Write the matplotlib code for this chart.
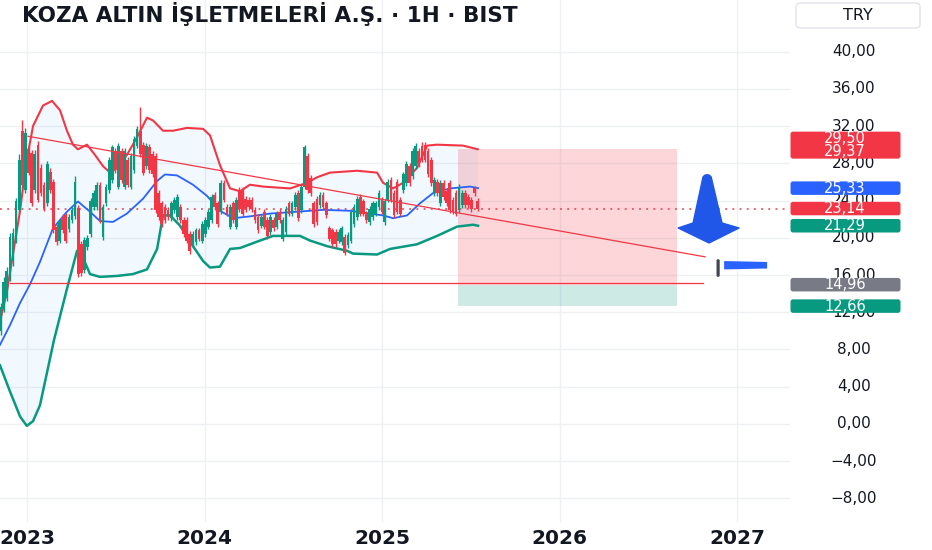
import numpy as np
import pandas as pd
import matplotlib
matplotlib.use('Agg')
import matplotlib.pyplot as plt
from matplotlib.patches import Rectangle, FancyBboxPatch, Polygon

# ---------------- data ----------------
title = "KOZA ALTIN İŞLETMELERİ A.Ş. · 1H · BIST"
currency = "TRY"
year_ticks = [2023, 2024, 2025, 2026, 2027]
price_ticks = [40, 36, 32, 28, 24, 20, 16, 12, 8, 4, 0, -4, -8]

opens = [10.0, 12.3, 13.5, 15.7, 17.5, 19.7, 23.0, 31.5, 25.1, 29.5, 29.1, 25.1, 30.0, 27.5, 25.7, 23.7,
         27.1, 26.0, 21.2, 19.7, 22.2, 22.4, 20.9, 21.9, 22.3, 23.2, 19.3, 16.5, 19.0, 20.4, 23.3, 23.3,
         25.7, 20.1, 23.7, 25.1, 26.2, 29.3, 25.5, 29.3, 25.5, 28.4, 25.5, 27.3, 29.9, 31.5, 30.0, 27.7,
         29.8, 29.0, 28.8, 24.8, 23.7, 23.3, 23.0, 22.1, 23.0, 22.2, 23.3, 21.9, 21.9, 20.4, 19.2, 19.5,
         20.8, 19.7, 20.4, 21.2, 21.9, 24.6, 23.7, 22.8, 25.9, 23.3, 21.2, 23.7, 21.2, 25.1, 25.1, 24.2,
         24.1, 24.1, 23.0, 22.2, 21.3, 22.8, 21.9, 20.6, 21.9, 21.2, 22.8, 19.9, 20.6, 23.7, 22.6, 23.3,
         24.8, 23.0, 25.5, 28.8, 26.4, 23.7, 24.2, 23.5, 24.6, 23.7, 21.0, 20.8, 20.6, 19.7, 19.5, 20.1,
         19.2, 19.7, 21.5, 22.2, 24.4, 23.9, 22.6, 21.7, 22.2, 22.6, 23.3, 24.1, 21.7, 24.1, 26.2, 24.8,
         26.0, 24.1, 25.1, 25.9, 27.7, 26.6, 27.7, 29.3, 29.9, 30.0, 29.3, 28.4, 24.8, 26.0, 23.7, 25.9,
         25.0, 25.9, 24.1, 24.8, 23.0, 23.5, 24.8, 24.4, 24.1, 25.3, 24.0]
closes = [12.6, 15.2, 16.4, 20.1, 20.5, 23.9, 28.4, 25.7, 31.3, 27.0, 23.7, 29.0, 24.1, 24.8, 23.2, 27.9,
          25.1, 20.8, 19.5, 21.7, 20.8, 19.7, 22.2, 23.0, 26.0, 16.1, 16.2, 19.8, 20.0, 24.0, 24.8, 25.7,
          21.9, 23.3, 25.5, 28.4, 29.7, 27.3, 29.9, 26.2, 29.3, 25.7, 28.8, 30.6, 31.7, 29.0, 27.0, 29.9,
          27.3, 26.8, 23.0, 22.2, 21.5, 21.9, 22.2, 23.7, 24.1, 24.4, 21.9, 20.4, 19.7, 18.6, 20.4, 20.8,
          19.9, 21.5, 21.9, 22.8, 24.4, 23.3, 21.5, 25.9, 24.1, 22.6, 23.3, 21.9, 24.1, 23.1, 22.6, 23.1,
          23.3, 23.1, 21.9, 20.8, 22.2, 21.2, 20.2, 22.2, 21.0, 22.6, 21.9, 21.9, 23.1, 22.6, 23.7, 24.6,
          22.1, 25.5, 29.7, 25.1, 24.8, 21.5, 21.7, 24.6, 23.3, 22.4, 19.9, 19.3, 19.3, 20.6, 21.0, 18.4,
          20.3, 22.8, 23.3, 24.2, 22.6, 22.6, 21.9, 23.1, 23.7, 23.7, 24.8, 22.8, 23.9, 26.0, 24.1, 22.4,
          22.8, 22.6, 26.8, 27.9, 25.9, 29.3, 29.9, 27.9, 28.4, 28.4, 26.8, 25.9, 26.2, 24.8, 25.9, 24.4,
          23.7, 23.0, 22.8, 22.6, 25.5, 24.8, 23.5, 23.5, 23.1, 24.8, 23.14]
highs = [13.0, 15.8, 16.9, 20.5, 21.0, 24.3, 29.0, 32.6, 31.8, 29.9, 29.4, 29.4, 30.4, 27.9, 26.0, 28.3,
         27.5, 26.3, 21.5, 22.0, 22.5, 22.7, 22.5, 23.3, 26.6, 23.5, 19.6, 20.1, 20.3, 24.3, 25.1, 26.0,
         26.0, 23.6, 25.8, 28.7, 30.0, 29.6, 30.2, 29.6, 29.6, 28.7, 29.1, 30.9, 32.0, 34.0, 30.3, 30.2,
         30.1, 29.3, 29.1, 25.1, 24.0, 23.6, 23.3, 24.0, 24.4, 24.7, 23.6, 22.2, 22.2, 20.7, 20.7, 21.1,
         21.1, 21.8, 22.2, 23.1, 24.7, 24.9, 24.0, 26.2, 26.2, 23.6, 23.6, 24.0, 24.4, 25.4, 25.4, 24.5,
         24.4, 24.4, 23.3, 22.5, 22.5, 23.1, 22.2, 22.5, 22.2, 22.9, 23.1, 22.2, 23.4, 24.0, 24.0, 24.9,
         25.1, 25.8, 30.0, 29.1, 26.7, 24.0, 24.5, 24.9, 24.9, 24.0, 21.3, 21.1, 20.9, 20.9, 21.3, 20.4,
         20.6, 23.1, 23.6, 24.5, 24.7, 24.2, 22.9, 23.4, 24.0, 24.0, 25.1, 24.4, 24.2, 26.3, 26.5, 25.1,
         26.3, 24.4, 27.1, 28.2, 28.0, 29.6, 30.2, 29.6, 30.3, 30.3, 29.6, 28.7, 26.5, 26.3, 26.2, 26.2,
         25.3, 26.2, 24.4, 25.1, 25.8, 25.1, 25.1, 24.7, 24.4, 25.6, 24.3]
lows = [9.6, 12.0, 13.2, 15.4, 17.0, 19.4, 22.7, 25.3, 24.8, 26.7, 23.4, 24.8, 23.8, 24.5, 22.9, 23.4,
        24.8, 20.5, 19.2, 19.4, 20.5, 19.4, 20.6, 21.6, 22.0, 15.8, 15.9, 16.2, 18.7, 20.1, 23.0, 23.0,
        21.6, 19.8, 23.4, 24.8, 25.9, 27.0, 25.2, 25.9, 25.2, 25.4, 25.2, 27.0, 29.6, 28.7, 26.7, 27.4,
        27.0, 26.5, 22.7, 21.9, 21.2, 21.6, 21.9, 21.8, 22.7, 21.9, 21.6, 20.1, 19.4, 18.3, 18.9, 19.2,
        19.6, 19.4, 20.1, 20.9, 21.6, 23.0, 21.2, 22.5, 23.8, 22.3, 20.9, 21.6, 20.9, 22.8, 22.3, 22.8,
        23.0, 22.8, 21.6, 20.5, 21.0, 20.9, 19.9, 20.3, 20.7, 20.9, 21.6, 19.6, 20.3, 22.3, 22.3, 23.0,
        21.8, 22.7, 25.2, 24.8, 24.5, 21.2, 21.4, 23.2, 23.0, 22.1, 19.6, 19.0, 19.0, 19.4, 19.2, 18.1,
        18.9, 19.4, 21.2, 21.9, 22.3, 22.3, 21.6, 21.4, 21.9, 22.3, 23.0, 22.5, 21.4, 23.8, 23.8, 22.1,
        22.5, 22.3, 24.8, 25.6, 25.6, 26.3, 27.4, 27.6, 28.1, 28.1, 26.5, 25.6, 24.5, 24.5, 23.4, 24.1,
        23.4, 22.7, 22.5, 22.3, 22.7, 23.2, 23.2, 23.2, 22.8, 24.5, 22.9]

# Bollinger bands (decimal year, price)
upper_x = [2022.848, 2022.887, 2022.961, 2022.995, 2023.034, 2023.090, 2023.141, 2023.186, 2023.225,
           2023.259, 2023.287, 2023.338, 2023.383, 2023.428, 2023.468, 2023.507, 2023.563, 2023.620,
           2023.676, 2023.710, 2023.766, 2023.823, 2023.901, 2023.992, 2024.031, 2024.087, 2024.144,
           2024.200, 2024.256, 2024.330, 2024.482, 2024.577, 2024.634, 2024.707, 2024.859, 2024.972,
           2025.006, 2025.062, 2025.118, 2025.197, 2025.254, 2025.310, 2025.456, 2025.541]
upper_y = [11.0, 14.2, 22.9, 28.0, 32.0, 34.2, 34.7, 33.7, 31.5, 30.0, 29.5, 30.0, 28.9, 27.7, 27.0,
           27.5, 28.9, 30.8, 32.9, 32.6, 31.5, 31.5, 31.8, 31.7, 31.0, 27.8, 25.3, 25.0, 25.7, 25.5,
           25.3, 25.9, 26.5, 27.0, 27.2, 27.0, 25.9, 25.3, 25.9, 27.5, 29.9, 30.0, 29.9, 29.5]
basis_x = [2022.848, 2022.904, 2022.961, 2023.017, 2023.073, 2023.146, 2023.225, 2023.287, 2023.355,
           2023.411, 2023.484, 2023.563, 2023.654, 2023.733, 2023.777, 2023.845, 2023.935, 2024.014,
           2024.087, 2024.161, 2024.256, 2024.369, 2024.521, 2024.668, 2024.820, 2024.932, 2025.006,
           2025.062, 2025.141, 2025.214, 2025.287, 2025.383, 2025.496, 2025.541]
basis_y = [8.5, 10.6, 13.0, 15.0, 17.4, 21.0, 22.8, 23.9, 22.8, 21.8, 21.7, 22.6, 24.2, 26.1, 26.8,
           26.7, 25.7, 24.5, 22.9, 22.1, 22.3, 22.6, 22.8, 23.0, 22.9, 22.6, 22.4, 22.1, 22.4, 23.7,
           24.8, 25.3, 25.5, 25.33]
lower_x = [2022.848, 2022.904, 2022.961, 2022.999, 2023.034, 2023.073, 2023.152, 2023.225, 2023.282,
           2023.321, 2023.355, 2023.411, 2023.507, 2023.597, 2023.676, 2023.733, 2023.766, 2023.806,
           2023.862, 2023.935, 2023.992, 2024.031, 2024.087, 2024.144, 2024.200, 2024.313, 2024.386,
           2024.538, 2024.594, 2024.690, 2024.803, 2024.837, 2024.972, 2025.045, 2025.197, 2025.310,
           2025.423, 2025.513, 2025.541]
lower_y = [6.3, 3.5, 0.8, -0.2, 0.3, 2.0, 9.0, 14.5, 18.6, 17.6, 16.1, 15.8, 15.9, 16.1, 16.6, 18.8,
           22.4, 22.4, 21.3, 19.1, 17.5, 16.8, 16.9, 18.8, 18.9, 19.7, 20.2, 20.2, 19.7, 19.1, 18.6,
           18.3, 18.2, 18.8, 19.3, 20.2, 21.2, 21.4, 21.29]

# drawn trend lines (year, price)
trend_x = [2023.006, 2026.820]
trend_y = [30.9, 17.95]
support_x = [2022.903, 2026.810]
support_y = [15.1, 15.1]

# short position tool
pos_x = [2025.428, 2026.662]
stop_price = 29.50
entry_price = 14.96
target_price = 12.66
last_price = 23.14

# right axis labels: (text(s), center price, color)
axis_labels = [(["29,50", "29,37"], 29.95, '#f23645'),
               (["25,33"], 25.33, '#2962ff'),
               (["23,14"], 23.14, '#f23645'),
               (["21,29"], 21.29, '#089981'),
               (["14,96"], 14.96, '#787b86'),
               (["12,66"], 12.66, '#089981')]

# ---------------- figure ----------------
W, H = 932, 550
fig = plt.figure(figsize=(W / 100, H / 100), dpi=100)
fig.patch.set_facecolor('white')

YTOP, YBOT = 45.54, -10.53
XL, XR = 2022.848, 2027.298
ax = fig.add_axes([0, 28 / H, 790 / W, 522 / H])
ax.set_xlim(XL, XR)
ax.set_ylim(YBOT, YTOP)
for s in ax.spines.values():
    s.set_visible(False)

grid_c = '#eef0f4'
for p in price_ticks:
    ax.axhline(p, color=grid_c, lw=1, zorder=0)
for yv in year_ticks:
    ax.axvline(yv, color=grid_c, lw=1, zorder=0)

ax.set_yticks([])
ax.set_xticks(year_ticks)
ax.set_xticklabels([str(y) for y in year_ticks], fontsize=14.5, fontweight='bold', color='#131722')
ax.tick_params(axis='x', length=0, pad=5)

# bands
ax.fill(np.concatenate([upper_x, lower_x[::-1]]), np.concatenate([upper_y, lower_y[::-1]]),
        color='#2196f3', alpha=0.06, lw=0, zorder=1)
ax.plot(upper_x, upper_y, color='#f23645', lw=1.5, zorder=3, solid_capstyle='round')
ax.plot(basis_x, basis_y, color='#2962ff', lw=1.3, zorder=3)
ax.plot(lower_x, lower_y, color='#089981', lw=1.8, zorder=3)

# candles
dates = pd.date_range('2022-11-08', periods=len(opens), freq='153h')
xc = dates.year + (dates.dayofyear - 1 + dates.hour / 24) / 365.25
o = np.array(opens); c = np.array(closes)
cols = np.where(c >= o, '#089981', '#f23645')
ax.vlines(xc, lows, highs, colors=cols, lw=1.0, zorder=4)
ax.bar(xc, c - o, bottom=o, width=0.0155, color=cols, lw=0, zorder=4)

# trend lines
ax.plot(trend_x, trend_y, color='#f23645', lw=0.9, zorder=5)
ax.plot(support_x, support_y, color='#f23645', lw=0.9, zorder=5)
ax.axhline(last_price, color='#f23645', lw=1.1, ls=(0, (1.2, 3.5)), zorder=2)

# position boxes
ax.add_patch(Rectangle((pos_x[0], entry_price), pos_x[1] - pos_x[0], stop_price - entry_price,
                       facecolor='#f23645', alpha=0.2, lw=0, zorder=2))
ax.add_patch(Rectangle((pos_x[0], target_price), pos_x[1] - pos_x[0], entry_price - target_price,
                       facecolor='#089981', alpha=0.2, lw=0, zorder=2))

# blue arrow drawing
arrow = [(2026.808, 26.53), (2026.818, 26.72), (2026.831, 26.78), (2026.844, 26.72), (2026.854, 26.53),
         (2026.915, 21.59), (2027.011, 21.05), (2026.842, 19.44), (2026.668, 21.05), (2026.752, 21.59)]
ax.add_patch(Polygon(arrow, closed=True, facecolor='#2157e8', edgecolor='#2157e8', lw=1, zorder=6,
                     joinstyle='round'))
ax.add_patch(FancyBboxPatch((2026.884, 15.8), 0.018, 1.9, boxstyle='round,pad=0,rounding_size=0.008',
                            facecolor='#434651', lw=0, zorder=6, mutation_aspect=20))
ax.add_patch(Polygon([(2026.927, 17.5), (2027.169, 17.4), (2027.169, 16.7), (2026.927, 16.6)],
                     closed=True, facecolor='#2962ff', lw=0, zorder=6))

# right price scale
rax = fig.add_axes([790 / W, 28 / H, 142 / W, 522 / H])
rax.set_xlim(0, 142)
rax.set_ylim(YBOT, YTOP)
rax.axis('off')
for p in price_ticks:
    lab = f"{abs(p)},00"
    if p < 0:
        lab = "\u2212" + lab
    rax.text(64, p, lab, ha='center', va='center', fontsize=11, color='#131722', zorder=1)

px_h = (YTOP - YBOT) / 522.0
for texts, yc, col in axis_labels:
    n = len(texts)
    hbox = (13.5 * n) * px_h
    rax.add_patch(FancyBboxPatch((0.5, yc - hbox / 2), 110, hbox,
                                 boxstyle='round,pad=0,rounding_size=2.5', mutation_aspect=px_h,
                                 facecolor=col, lw=0, zorder=3))
    for k, t in enumerate(texts):
        yy = yc + (n - 1) / 2 * 13.0 * px_h - k * 13.0 * px_h
        rax.text(55, yy, t, ha='center', va='center', fontsize=10.5, color='white', zorder=4)

# currency box
fig.patches.append(FancyBboxPatch((796 / W, 1 - 28 / H), 124 / W, 25 / H,
                                  boxstyle='round,pad=0,rounding_size=0.006',
                                  transform=fig.transFigure, facecolor='white', edgecolor='#e0e3eb',
                                  lw=1, zorder=5))
fig.text(858 / W, 1 - 15.5 / H, currency, ha='center', va='center', fontsize=11.5, color='#131722',
         zorder=6)

# title
fig.text(22 / W, 1 - 14 / H, title, ha='left', va='center', fontsize=15.5, fontweight='bold',
         color='#131722')

fig.savefig('out.png', dpi=100, facecolor='white')
